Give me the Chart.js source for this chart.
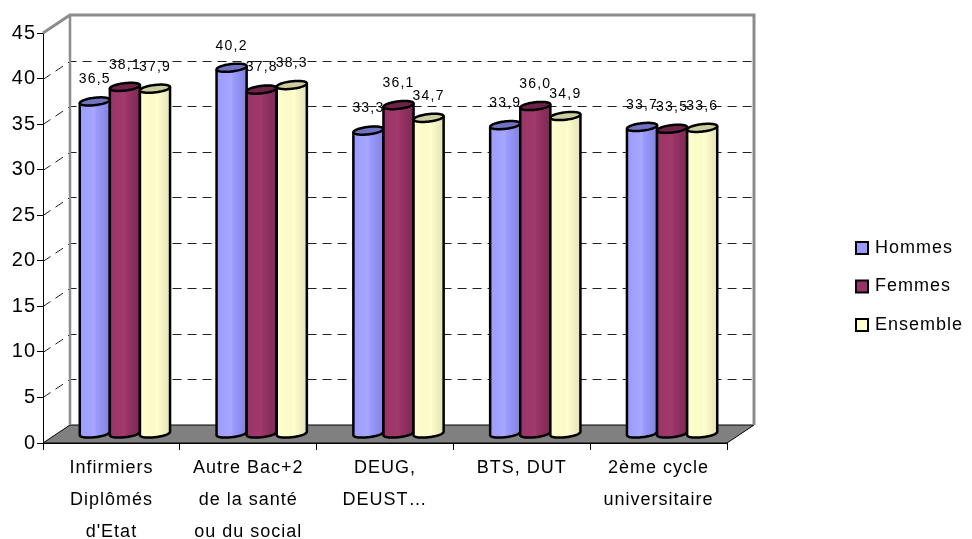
<!DOCTYPE html>
<html>
<head>
<meta charset="utf-8">
<script src="https://cdn.jsdelivr.net/npm/chart.js@4/dist/chart.umd.min.js"></script>
<style>
  html, body { margin: 0; padding: 0; background: #fff; }
  #wrap { width: 972px; height: 539px; }
</style>
</head>
<body>
<div id="wrap"><canvas id="chart" width="972" height="539"></canvas></div>
<script>
// Data
const categories = [
  ["Infirmiers", "Diplômés", "d'Etat"],
  ["Autre Bac+2", "de la santé", "ou du social"],
  ["DEUG,", "DEUST…"],
  ["BTS, DUT"],
  ["2ème cycle", "universitaire"]
];
const hommes   = [36.5, 40.2, 33.3, 33.9, 33.7];
const femmes   = [38.1, 37.8, 36.1, 36.0, 33.5];
const ensemble = [37.9, 38.3, 34.7, 34.9, 33.6];
const seriesNames = ["Hommes", "Femmes", "Ensemble"];
const yMin = 0, yMax = 45, yStep = 5;

// Colours per series: swatch, body light, body highlight, body dark, cap
const palette = [
  { swatch: "#9999FF", light: "#9b9bff", hi: "#a6a6ff", dark: "#8282dc", cap: "#7272c2" },
  { swatch: "#993366", light: "#9a3467", hi: "#a03a6c", dark: "#7c2a53", cap: "#6e2348" },
  { swatch: "#FFFFCC", light: "#ffffcf", hi: "#fbfbc8", dark: "#e2e2b4", cap: "#cdcd9f" }
];

// Oblique depth of the back wall; bars stand half-way in.
const DEPTH = { x: 27, y: -18 };
const FONT = "'Liberation Sans', Arial, sans-serif";

function fmt(v) { return v.toFixed(1).replace(".", ","); }
function spacing(ctx, v) { if ("letterSpacing" in ctx) ctx.letterSpacing = v; }

const wallsPlugin = {
  id: "walls",
  beforeDraw(chart) {
    // axis labels are drawn slightly tracked out
    spacing(chart.ctx, "1px");
  },
  beforeDatasetsDraw(chart) {
    const { ctx, chartArea: a, scales: { y } } = chart;
    spacing(ctx, "0px");
    const dx = DEPTH.x, dy = DEPTH.y;
    const y0 = y.getPixelForValue(yMin);
    const yT = y.getPixelForValue(yMax);
    ctx.save();
    // floor
    ctx.beginPath();
    ctx.moveTo(a.left, y0);
    ctx.lineTo(a.right, y0);
    ctx.lineTo(a.right + dx, y0 + dy);
    ctx.lineTo(a.left + dx, y0 + dy);
    ctx.closePath();
    ctx.fillStyle = "#808080";
    ctx.fill();
    ctx.strokeStyle = "#000";
    ctx.lineWidth = 1;
    ctx.stroke();
    // dashed grid on the side and back walls
    ctx.setLineDash([9, 6]);
    ctx.strokeStyle = "#222";
    ctx.lineWidth = 1;
    for (let v = yMin + yStep; v < yMax; v += yStep) {
      const py = Math.round(y.getPixelForValue(v)) + 0.5;
      ctx.beginPath();
      ctx.moveTo(a.left, py);
      ctx.lineTo(a.left + dx, py + dy);
      ctx.lineTo(a.right + dx, py + dy);
      ctx.stroke();
    }
    ctx.setLineDash([]);
    // wall frame
    ctx.strokeStyle = "#8c8c8c";
    ctx.lineWidth = 3;
    ctx.beginPath();
    ctx.moveTo(a.left, yT);
    ctx.lineTo(a.left + dx, yT + dy);
    ctx.lineTo(a.right + dx, yT + dy);
    ctx.lineTo(a.right + dx, y0 + dy);
    ctx.stroke();
    ctx.lineWidth = 2.5;
    ctx.beginPath();
    ctx.moveTo(a.left + dx, yT + dy);
    ctx.lineTo(a.left + dx, y0 + dy);
    ctx.stroke();
    ctx.restore();

    // shift the bars to mid depth
    ctx.save();
    ctx.translate(dx / 2, dy / 2);
  },
  afterDatasetsDraw(chart) {
    const { ctx } = chart;
    chart.data.datasets.forEach((ds, di) => {
      const meta = chart.getDatasetMeta(di);
      const pal = palette[di];
      meta.data.forEach((bar) => {
        drawCylinder(ctx, bar.x, bar.y, bar.base, bar.width / 2, pal);
      });
    });
    // value labels
    ctx.fillStyle = "#000";
    ctx.font = "14px " + FONT;
    ctx.textAlign = "center";
    ctx.textBaseline = "middle";
    spacing(ctx, "1.2px");
    chart.data.datasets.forEach((ds, di) => {
      const meta = chart.getDatasetMeta(di);
      meta.data.forEach((bar, i) => {
        ctx.fillText(fmt(ds.data[i]), bar.x, bar.y - 22);
      });
    });
    spacing(ctx, "0px");
    ctx.restore();
  },
  afterDraw(chart) {
    // legend
    const { ctx } = chart;
    ctx.save();
    ctx.font = "18px " + FONT;
    ctx.textBaseline = "middle";
    ctx.textAlign = "left";
    seriesNames.forEach((name, i) => {
      const cy = 248 + i * 38.5;
      ctx.fillStyle = palette[i].swatch;
      ctx.fillRect(856, cy - 6, 12, 12);
      ctx.strokeStyle = "#000";
      ctx.lineWidth = 2;
      ctx.strokeRect(856, cy - 6, 12, 12);
      ctx.fillStyle = "#000";
      spacing(ctx, "1px");
      ctx.fillText(name, 875, cy);
      spacing(ctx, "0px");
    });
    ctx.restore();
  }
};

function drawCylinder(ctx, cx, top, base, halfW, pal) {
  const ax = 6.2, ay = -4.1;               // projected depth of the radius
  const r = Math.sqrt(halfW * halfW - ax * ax);
  const pt = (yc, t) => [cx + r * Math.cos(t) + ax * Math.sin(t), yc + ay * Math.sin(t)];
  const tR = Math.atan2(ax, r);
  const tL = tR + Math.PI;
  const N = 40;

  const grad = ctx.createLinearGradient(cx - halfW, 0, cx + halfW, 0);
  grad.addColorStop(0, pal.light);
  grad.addColorStop(0.45, pal.hi);
  grad.addColorStop(0.5, pal.hi);
  grad.addColorStop(0.55, pal.light);
  grad.addColorStop(1, pal.dark);

  // body: left side, front of the foot, right side
  const bodyPath = () => {
    ctx.beginPath();
    let p = pt(top, tL);
    ctx.moveTo(p[0], p[1]);
    p = pt(base, tL);
    ctx.lineTo(p[0], p[1]);
    for (let k = 1; k <= N; k++) {
      p = pt(base, tL + Math.PI * k / N);
      ctx.lineTo(p[0], p[1]);
    }
    p = pt(top, tR);
    ctx.lineTo(p[0], p[1]);
  };
  bodyPath();
  ctx.closePath();
  ctx.fillStyle = grad;
  ctx.fill();

  bodyPath();
  ctx.strokeStyle = "#000";
  ctx.lineWidth = 2.5;
  ctx.lineJoin = "round";
  ctx.stroke();

  // cap
  ctx.beginPath();
  for (let k = 0; k <= 2 * N; k++) {
    const p = pt(top, Math.PI * k / N);
    if (k === 0) ctx.moveTo(p[0], p[1]); else ctx.lineTo(p[0], p[1]);
  }
  ctx.closePath();
  ctx.fillStyle = pal.cap;
  ctx.fill();
  ctx.stroke();
}

const chart = new Chart(document.getElementById("chart"), {
  type: "bar",
  data: {
    labels: categories,
    datasets: [
      { label: seriesNames[0], data: hommes,   backgroundColor: palette[0].swatch },
      { label: seriesNames[1], data: femmes,   backgroundColor: palette[1].swatch },
      { label: seriesNames[2], data: ensemble, backgroundColor: palette[2].swatch }
    ]
  },
  options: {
    responsive: false,
    devicePixelRatio: 1,
    animation: false,
    events: [],
    layout: { padding: { top: 33, right: 245, left: 0, bottom: 0 } },
    datasets: { bar: { barPercentage: 1, categoryPercentage: 0.66, borderWidth: 0 } },
    plugins: { legend: { display: false }, tooltip: { enabled: false } },
    scales: {
      x: {
        grid: { display: true, drawOnChartArea: false, offset: true, tickLength: 7, color: "#000", lineWidth: 1 },
        border: { display: true, color: "#000", width: 1 },
        ticks: { color: "#000", font: { family: FONT, size: 18, lineHeight: 1.78 }, padding: 2, maxRotation: 0, autoSkip: false },
        afterFit(scale) { scale.height = 96; }
      },
      y: {
        min: yMin, max: yMax,
        grid: { display: true, drawOnChartArea: false, tickLength: 6, color: "#000", lineWidth: 1 },
        border: { display: true, color: "#000", width: 1 },
        ticks: { stepSize: yStep, color: "#000", font: { family: FONT, size: 20 }, padding: 1 },
        afterFit(scale) { scale.width = 43; }
      }
    }
  },
  plugins: [wallsPlugin]
});
</script>
</body>
</html>
